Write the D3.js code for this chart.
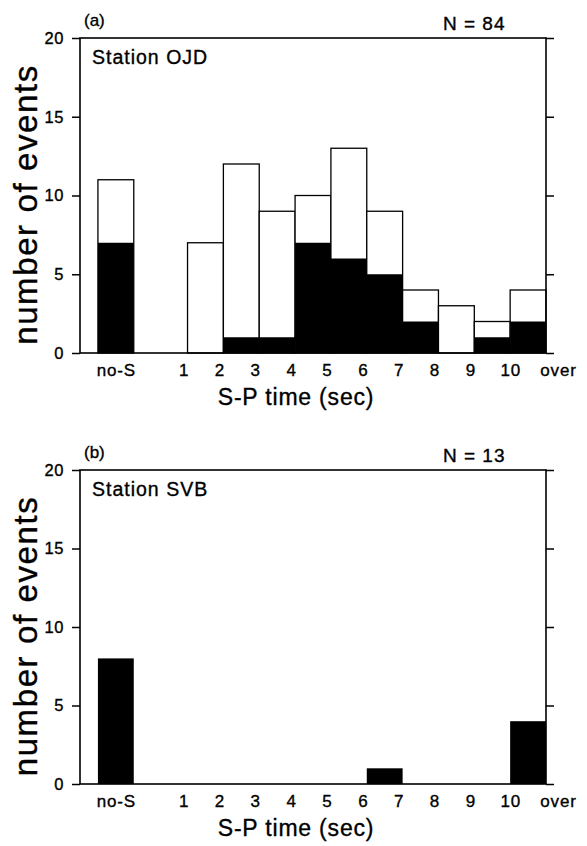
<!DOCTYPE html>
<html>
<head>
<meta charset="utf-8">
<script src="https://cdn.jsdelivr.net/npm/d3@7"></script>
<style>
body { margin: 0; background: #fff; }
text { font-family: "Liberation Sans", Arial, sans-serif; fill: #000; stroke: #000; stroke-width: 0.35px; }
</style>
</head>
<body>
<div id="chart"></div>
<script>
// histogram bins (S-P time, sec)
var categories = ["no-S", "0-1", "1-2", "2-3", "3-4", "4-5", "5-6", "6-7", "7-8", "8-9", "9-10", "over"];

// station OJD: total count and filled (black) part
var totalA = [11, 0, 7, 12, 9, 10, 13, 9, 4, 3, 2, 4];
var blackA = [7, 0, 0, 1, 1, 7, 6, 5, 2, 0, 1, 2];

// station SVB
var totalB = [8, 0, 0, 0, 0, 0, 0, 1, 0, 0, 0, 4];
var blackB = [8, 0, 0, 0, 0, 0, 0, 1, 0, 0, 0, 4];

var xTicks = [-1, 1, 2, 3, 4, 5, 6, 7, 8, 9, 10, 11];
var xTickLabels = ["no-S", "1", "2", "3", "4", "5", "6", "7", "8", "9", "10", "over"];
var yTicks = [0, 5, 10, 15, 20];

var width = 587, height = 846;

var svg = d3.select("#chart")
    .append("svg")
    .attr("width", width)
    .attr("height", height);

var x = d3.scaleLinear()
    .domain([-2, 11])
    .range([80, 546]);

// edges of a bin on the x scale
function binEdges(c) {
    if (c === "no-S") return [-1.5, -0.5];
    if (c === "over") return [10, 11];
    return c.split("-").map(Number);
}

function drawPanel(top, bottom, total, black, tag, station, nText) {
    var y = d3.scaleLinear()
        .domain([0, 20])
        .range([bottom, top]);

    var g = svg.append("g");

    var rows = categories.map(function(c, i) {
        var e = binEdges(c);
        return {c: c, x0: e[0], x1: e[1], t: total[i], b: black[i]};
    });

    // open part of the bars
    g.selectAll("rect.open")
        .data(rows.filter(function(d) { return d.t > d.b; }))
        .enter()
        .append("rect")
        .attr("class", "open")
        .attr("x", function(d) { return x(d.x0); })
        .attr("width", function(d) { return x(d.x1) - x(d.x0); })
        .attr("y", function(d) { return y(d.t); })
        .attr("height", function(d) { return y(0) - y(d.t); })
        .attr("fill", "#fff")
        .attr("stroke", "#000")
        .attr("stroke-width", 1.3);

    // filled part
    g.selectAll("rect.filled")
        .data(rows.filter(function(d) { return d.b > 0; }))
        .enter()
        .append("rect")
        .attr("class", "filled")
        .attr("x", function(d) { return x(d.x0); })
        .attr("width", function(d) { return x(d.x1) - x(d.x0); })
        .attr("y", function(d) { return y(d.b); })
        .attr("height", function(d) { return y(0) - y(d.b); })
        .attr("fill", "#000");

    // frame
    g.append("rect")
        .attr("x", x(-2))
        .attr("y", y(20))
        .attr("width", x(11) - x(-2))
        .attr("height", y(0) - y(20))
        .attr("fill", "none")
        .attr("stroke", "#000")
        .attr("stroke-width", 1.6);

    // left axis
    var yAxis = g.append("g")
        .attr("transform", "translate(" + x(-2) + ",0)")
        .call(d3.axisLeft(y).tickValues(yTicks).tickSize(8).tickPadding(8));
    yAxis.select(".domain").remove();
    yAxis.selectAll("line").attr("stroke-width", 1.5);
    yAxis.selectAll("text")
        .attr("font-size", "16.5px")
        .attr("font-family", null)
        .style("letter-spacing", "0.6px");

    // right ticks
    var yRight = g.append("g")
        .attr("transform", "translate(" + x(11) + ",0)")
        .call(d3.axisRight(y).tickValues(yTicks).tickSize(8).tickFormat(""));
    yRight.select(".domain").remove();
    yRight.selectAll("line").attr("stroke-width", 1.5);

    // x labels
    var xAxis = g.append("g")
        .attr("transform", "translate(0," + y(0) + ")")
        .call(d3.axisBottom(x)
            .tickValues(xTicks)
            .tickSize(0)
            .tickPadding(11)
            .tickFormat(function(d, i) { return xTickLabels[i]; }));
    xAxis.select(".domain").remove();
    xAxis.selectAll("text")
        .attr("font-size", "17px")
        .attr("font-family", null)
        .style("letter-spacing", "0.8px")
        .attr("dx", function(d, i) {
            var s = xTickLabels[i];
            if (s === "over") return 12;
            return s.length === 1 ? -4 : 0;
        });

    g.append("text")
        .attr("x", 296)
        .attr("y", bottom + 52)
        .attr("text-anchor", "middle")
        .attr("font-size", "23px")
        .style("letter-spacing", "0.8px")
        .text("S-P time (sec)");

    g.append("text")
        .attr("transform", "translate(37," + ((top + bottom) / 2 + 9) + ") rotate(-90)")
        .attr("text-anchor", "middle")
        .attr("font-size", "33px")
        .style("letter-spacing", "1.6px")
        .text("number of events");

    g.append("text")
        .attr("x", 84)
        .attr("y", top - 12)
        .attr("font-size", "17px")
        .text(tag);

    g.append("text")
        .attr("x", 443)
        .attr("y", top - 8)
        .attr("font-size", "19px")
        .style("letter-spacing", "1px")
        .text(nText);

    g.append("text")
        .attr("x", 92)
        .attr("y", top + 26)
        .attr("font-size", "19.5px")
        .style("letter-spacing", "1px")
        .text(station);
}

drawPanel(38, 353, totalA, blackA, "(a)", "Station OJD", "N = 84");
drawPanel(470, 784, totalB, blackB, "(b)", "Station SVB", "N = 13");
</script>
</body>
</html>
